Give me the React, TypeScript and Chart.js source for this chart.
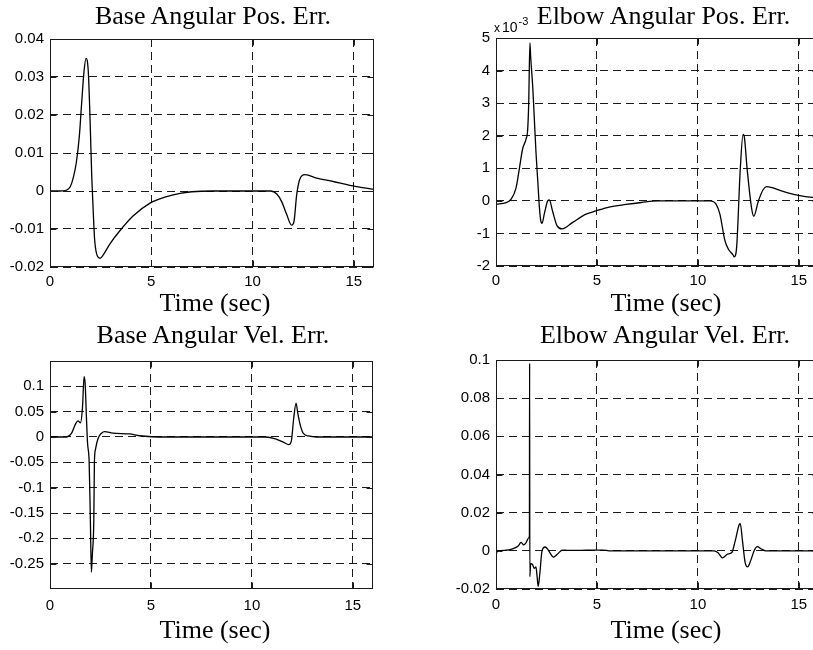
import { useEffect, useRef } from "react";
import { Chart, registerables } from "chart.js";

Chart.register(...registerables);

// Shared time axis (seconds)
const timeRange = [0, 16];
const timeTicks = [0, 5, 10, 15];

// Base angular position error (rad)
const basePosT = [0, 0.5, 0.8, 1.0, 1.15, 1.3, 1.45, 1.56, 1.68, 1.78, 1.89, 1.98, 2.06, 2.12, 2.2, 2.3, 2.47, 2.63, 2.96, 3.46, 4.1, 4.94, 5.76, 6.42, 7.0, 8.0, 10.9, 11.2, 11.44, 11.69, 11.93, 12.05, 12.18, 12.31, 12.45, 12.6, 13.17, 13.99, 14.81, 16];
const basePosErr = [0, 0, 0.0002, 0.0011, 0.0035, 0.0075, 0.0145, 0.0229, 0.0315, 0.0349, 0.0315, 0.0186, 0.0041, -0.0035, -0.0125, -0.0165, -0.0177, -0.0168, -0.0139, -0.0104, -0.0066, -0.0032, -0.0015, -0.0006, -0.0002, 0, 0, -0.0008, -0.0028, -0.0062, -0.009, -0.008, -0.0011, 0.0027, 0.0041, 0.0043, 0.0034, 0.0025, 0.0015, 0.0004];
const basePosRange = [-0.02, 0.04];
const basePosTicks = [-0.02, -0.01, 0, 0.01, 0.02, 0.03, 0.04];

// Elbow angular position error (x 10^-3 rad)
const elbowPosT = [0, 0.5, 0.74, 0.99, 1.16, 1.32, 1.49, 1.57, 1.62, 1.68, 1.72, 1.82, 1.9, 1.98, 2.08, 2.15, 2.23, 2.28, 2.39, 2.56, 2.64, 2.8, 3.02, 3.27, 3.8, 4.46, 4.95, 5.6, 6.44, 7.2, 8.0, 10.6, 10.9, 11.09, 11.34, 11.5, 11.75, 11.8, 11.92, 12.1, 12.24, 12.29, 12.44, 12.66, 12.77, 12.99, 13.23, 13.4, 14.22, 15.05, 15.68, 16];
const elbowPosErr = [-0.105, -0.055, 0.045, 0.39, 1.0, 1.6, 1.9, 2.2, 3.0, 4.85, 4.4, 3.5, 2.5, 1.5, 0.5, -0.2, -0.65, -0.69, -0.41, 0.0, 0.03, -0.31, -0.76, -0.86, -0.66, -0.41, -0.31, -0.19, -0.11, -0.05, 0, 0, -0.1, -0.41, -1.22, -1.47, -1.67, -1.72, -1.42, 0.98, 2.04, 2.0, 0.98, -0.22, -0.47, -0.02, 0.34, 0.44, 0.29, 0.16, 0.105, 0.09];
const elbowPosRange = [-2, 5];
const elbowPosTicks = [-2, -1, 0, 1, 2, 3, 4, 5];

// Base angular velocity error (rad/s)
const baseVelT = [0, 0.82, 1.07, 1.28, 1.39, 1.51, 1.61, 1.69, 1.74, 1.81, 1.86, 1.94, 2.0, 2.05, 2.1, 2.17, 2.2, 2.25, 2.38, 2.55, 2.71, 3.12, 3.94, 4.43, 5.75, 10.67, 11.17, 11.58, 11.82, 11.95, 12.07, 12.19, 12.27, 12.4, 12.56, 12.81, 13.2, 16];
const baseVelErr = [0, 0, 0.0075, 0.027, 0.032, 0.028, 0.059, 0.119, 0.106, 0.033, -0.012, -0.05, -0.165, -0.267, -0.23, -0.165, -0.05, -0.025, -0.003, 0.0075, 0.0105, 0.0075, 0.006, 0.0025, 0, 0, -0.0035, -0.0105, -0.015, -0.009, 0.036, 0.067, 0.048, 0.023, 0.0065, 0.002, 0, 0];
const baseVelRange = [-0.3, 0.15];
const baseVelTicks = [-0.25, -0.2, -0.15, -0.1, -0.05, 0, 0.05, 0.1];

// Elbow angular velocity error (rad/s)
const elbowVelT = [0, 0.03, 0.1, 0.5, 0.82, 1.1, 1.24, 1.37, 1.5, 1.6, 1.655, 1.665, 1.675, 1.72, 1.8, 1.9, 1.98, 2.04, 2.09, 2.17, 2.28, 2.43, 2.56, 2.7, 2.85, 3.05, 3.29, 3.6, 4.5, 5.3, 5.6, 10.8, 11.0, 11.22, 11.47, 11.68, 11.85, 12.05, 12.1, 12.21, 12.34, 12.46, 12.62, 12.79, 12.95, 13.12, 13.37, 16];
const elbowVelErr = [-0.0033, -0.001, 0, 0.0003, 0.001, 0.0025, 0.0044, 0.0031, 0.0045, 0.0065, 0.0078, 0.0983, -0.0135, -0.0067, -0.007, -0.0092, -0.0084, -0.014, -0.0186, -0.012, 0, 0.002, 0.0009, -0.0015, -0.0033, -0.0016, 0.0004, 0.0002, 0.0003, 0.0004, 0, 0, -0.001, -0.0037, -0.0017, -0.0009, 0.0052, 0.0138, 0.0142, 0.0052, -0.006, -0.0084, -0.005, 0.0002, 0.0022, 0.0011, 0, 0];
const elbowVelRange = [-0.02, 0.1];
const elbowVelTicks = [-0.02, 0, 0.02, 0.04, 0.06, 0.08, 0.1];

const titles = [
  "Base Angular Pos. Err.",
  "Elbow Angular Pos. Err.",
  "Base Angular Vel. Err.",
  "Elbow Angular Vel. Err.",
];
const xLabel = "Time (sec)";

const SERIF = '"Liberation Serif", "Times New Roman", Times, serif';
const SANS = '"Liberation Sans", Arial, Helvetica, sans-serif';

// Axes box with inward tick marks, drawn over grid and trace
const axesBox = {
  id: "axesBox",
  afterDraw(chart: any) {
    const { ctx, chartArea: a, scales } = chart;
    const l = Math.round(a.left) + 0.5;
    const t = Math.round(a.top) + 0.5;
    const r = Math.round(a.right) - 0.5;
    const b = Math.round(a.bottom) - 0.5;
    const len = 6;
    ctx.save();
    ctx.strokeStyle = "#1a1a1a";
    ctx.lineWidth = 1;
    ctx.setLineDash([]);
    ctx.strokeRect(l, t, r - l, b - t);
    ctx.beginPath();
    for (const tk of scales.x.ticks) {
      const px = Math.round(scales.x.getPixelForValue(tk.value)) + 0.5;
      ctx.moveTo(px, b);
      ctx.lineTo(px, b - len);
      ctx.moveTo(px, t);
      ctx.lineTo(px, t + len);
    }
    for (const tk of scales.y.ticks) {
      const py = Math.round(scales.y.getPixelForValue(tk.value)) + 0.5;
      ctx.moveTo(l, py);
      ctx.lineTo(l + len, py);
      ctx.moveTo(r, py);
      ctx.lineTo(r - len, py);
    }
    ctx.stroke();
    ctx.restore();
  },
};

type PanelProps = {
  t: number[];
  y: number[];
  yRange: number[];
  yTicks: number[];
  area: { left: number; top: number; right: number; bottom: number };
  xTickPad: number;
};

const PAD_L = 50;
const PAD_T = 10;
const PAD_R = 12;
const PAD_B = 34;

function Panel({ t, y, yRange, yTicks, area, xTickPad }: PanelProps) {
  const ref = useRef<HTMLCanvasElement>(null);
  const width = area.right - area.left + PAD_L + PAD_R;
  const height = area.bottom - area.top + PAD_T + PAD_B;

  useEffect(() => {
    if (!ref.current) return;
    const tickFont = { family: SANS, size: 15 };
    const grid = { color: "#1a1a1a", lineWidth: 1, drawTicks: false };
    const chart = new Chart(ref.current, {
      type: "line",
      data: {
        datasets: [
          {
            data: t.map((x, i) => ({ x, y: y[i] })),
            borderColor: "#000",
            borderWidth: 1.3,
            pointRadius: 0,
            fill: false,
            cubicInterpolationMode: "monotone",
          },
        ],
      },
      options: {
        responsive: false,
        animation: false,
        events: [],
        layout: { padding: { left: 0, top: PAD_T, right: PAD_R, bottom: 0 } },
        plugins: { legend: { display: false }, tooltip: { enabled: false }, title: { display: false } },
        scales: {
          x: {
            type: "linear",
            min: timeRange[0],
            max: timeRange[1],
            afterBuildTicks: (s: any) => {
              s.ticks = timeTicks.map((v) => ({ value: v }));
            },
            afterFit: (s: any) => {
              s.height = PAD_B;
            },
            ticks: {
              color: "#000",
              font: tickFont,
              padding: xTickPad,
              maxRotation: 0,
              autoSkip: false,
              callback: (v: any) => String(v),
            },
            grid,
            border: { display: false, dash: [8, 5] },
          },
          y: {
            type: "linear",
            min: yRange[0],
            max: yRange[1],
            afterBuildTicks: (s: any) => {
              s.ticks = yTicks.map((v) => ({ value: v }));
            },
            afterFit: (s: any) => {
              s.width = PAD_L;
            },
            ticks: {
              color: "#000",
              font: tickFont,
              padding: 6,
              autoSkip: false,
              callback: (v: any) => String(v),
            },
            grid,
            border: { display: false, dash: [8, 5] },
          },
        },
      },
      plugins: [axesBox],
    });
    return () => chart.destroy();
  }, []);

  return (
    <canvas
      ref={ref}
      width={width}
      height={height}
      style={{ position: "absolute", left: area.left - PAD_L, top: area.top - PAD_T, width, height }}
    />
  );
}

// Serif caption placed by its horizontal centre and its baseline
function Caption({ text, cx, baseline }: { text: string; cx: number; baseline: number }) {
  return (
    <div
      style={{
        position: "absolute",
        left: cx - 200,
        width: 400,
        top: baseline - 23.8,
        lineHeight: "30px",
        fontSize: 26,
        fontFamily: SERIF,
        textAlign: "center",
        color: "#000",
        whiteSpace: "nowrap",
      }}
    >
      {text}
    </div>
  );
}

export default function App() {
  return (
    <div
      style={{
        position: "fixed",
        left: 0,
        top: 0,
        width: 813,
        height: 650,
        overflow: "hidden",
        background: "#fff",
      }}
    >
      <Panel t={basePosT} y={basePosErr} yRange={basePosRange} yTicks={basePosTicks}
        area={{ left: 50, top: 34, right: 374, bottom: 267 }} xTickPad={6} />
      <Panel t={elbowPosT} y={elbowPosErr} yRange={elbowPosRange} yTicks={elbowPosTicks}
        area={{ left: 496, top: 33, right: 819, bottom: 266 }} xTickPad={6} />
      <Panel t={baseVelT} y={baseVelErr} yRange={baseVelRange} yTicks={baseVelTicks}
        area={{ left: 50, top: 356, right: 373, bottom: 589 }} xTickPad={8} />
      <Panel t={elbowVelT} y={elbowVelErr} yRange={elbowVelRange} yTicks={elbowVelTicks}
        area={{ left: 496, top: 355, right: 819, bottom: 589 }} xTickPad={7} />

      <Caption text={titles[0]} cx={213} baseline={25} />
      <Caption text={titles[1]} cx={663.5} baseline={25} />
      <Caption text={titles[2]} cx={213} baseline={344} />
      <Caption text={titles[3]} cx={665} baseline={344} />

      <Caption text={xLabel} cx={215} baseline={312} />
      <Caption text={xLabel} cx={666} baseline={312} />
      <Caption text={xLabel} cx={215} baseline={639} />
      <Caption text={xLabel} cx={666} baseline={639} />

      {/* exponent multiplier for the elbow position axis */}
      <div
        style={{
          position: "absolute",
          left: 494,
          top: 13,
          lineHeight: "16px",
          fontSize: 14,
          fontFamily: SANS,
          color: "#000",
          whiteSpace: "nowrap",
        }}
      >
        <span style={{ fontSize: 12, marginRight: 2 }}>x</span>
        <span>10</span>
        <span style={{ fontSize: 11, verticalAlign: "7px", marginLeft: 1 }}>-3</span>
      </div>
    </div>
  );
}
